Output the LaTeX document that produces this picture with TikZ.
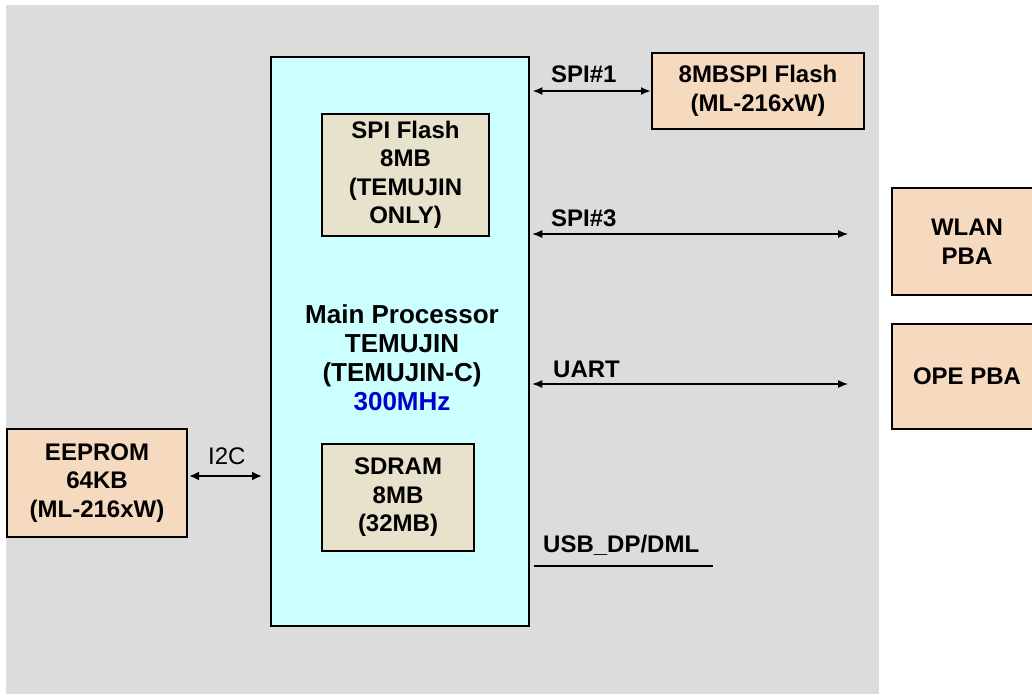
\documentclass[tikz,border=0pt]{standalone}
\usepackage{fontspec}
\setmainfont{Liberation Sans}
\usetikzlibrary{arrows.meta}
\definecolor{bggray}{RGB}{220,220,220}
\definecolor{cpucyan}{RGB}{204,255,255}
\definecolor{membeige}{RGB}{232,226,204}
\definecolor{peach}{RGB}{246,218,192}
\definecolor{mhzblue}{RGB}{0,0,204}
\tikzset{
  blk/.style={draw=black, line width=2pt, inner sep=0pt, align=center,
    font=\fontsize{24}{28.5}\selectfont\bfseries},
  periph/.style={blk, fill=peach},
  membox/.style={blk, fill=membeige},
  lbl/.style={inner sep=0pt, anchor=base west, font=\fontsize{24}{28}\selectfont\bfseries},
  bus/.style={line width=1.2pt, {Latex[length=10pt,width=8pt]}-{Latex[length=10pt,width=8pt]}},
  busthick/.style={line width=2pt, {Latex[length=10pt,width=8pt]}-{Latex[length=10pt,width=8pt]}},
}
\begin{document}
\begin{tikzpicture}[x=1pt,y=-1pt]
\useasboundingbox (0,0) rectangle (1032,697);
\clip (0,0) rectangle (1032,697);
% background panel
\fill[bggray] (6,5) rectangle (879,694);
% main processor
\node[blk, fill=cpucyan, minimum width=258.5pt, minimum height=569pt] (main) at (400,341.5) {};
\node[inner sep=0pt, align=center, font=\fontsize{26}{29}\selectfont\bfseries] (maintxt) at (402,358)
  {Main Processor\\TEMUJIN\\(TEMUJIN-C)\\\textcolor{mhzblue}{300MHz}};
\node[membox, minimum width=167pt, minimum height=122pt] (spif) at (405.5,175)
  {SPI Flash\\8MB\\(TEMUJIN\\ONLY)};
\node[membox, minimum width=152pt, minimum height=107pt] (sdram) at (398,497.5)
  {SDRAM\\8MB\\(32MB)};
% peripherals
\node[periph, minimum width=180pt, minimum height=108pt] (eeprom) at (97,483)
  {EEPROM\\64KB\\(ML-216xW)};
\node[periph, minimum width=212pt, minimum height=76pt] (flash8) at (758,91)
  {8MBSPI Flash\\(ML-216xW)};
\node[periph, minimum width=150pt, minimum height=107pt] (wlan) at (967,241.5)
  {WLAN\\PBA};
\node[periph, minimum width=150pt, minimum height=105pt] (ope) at (967,376.5)
  {OPE PBA};
% connector end points
\coordinate (spi3end) at (848,234);
\coordinate (uartend) at (848,384);
\coordinate (i2cl) at (189,476);
\coordinate (i2cr) at (262,476);
\coordinate (usbend) at (713,566);
% connectors
\draw[busthick] ([xshift=2pt]main.east |- flash8.west) -- (flash8.west);
\draw[bus] ([xshift=2pt]main.east |- spi3end) -- (spi3end);
\draw[bus] ([xshift=2pt]main.east |- uartend) -- (uartend);
\draw[line width=2.6pt, {Latex[length=10pt,width=9pt]}-{Latex[length=10pt,width=9pt]}] (i2cl) -- (i2cr);
\draw[line width=2pt] ([xshift=3.5pt]main.east |- usbend) -- (usbend);
% labels
\node[lbl] (lspi1) at (551,82) {SPI\#1};
\node[lbl] (lspi3) at (551,226) {SPI\#3};
\node[lbl] (luart) at (553,377) {UART};
\node[lbl, font=\fontsize{24}{28}\selectfont] (li2c) at (208,464) {I2C};
\node[lbl] (lusb) at (543,552) {USB\_DP/DML};
\end{tikzpicture}
\end{document}
